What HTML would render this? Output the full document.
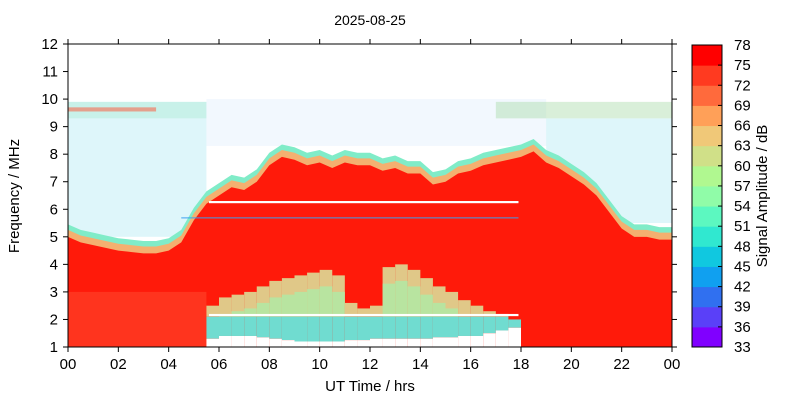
<!DOCTYPE html>
<html><head><meta charset="utf-8"><style>
body{margin:0;background:#fff;}
svg{display:block;font-family:"Liberation Sans",sans-serif;}
</style></head><body>
<svg id="c" width="800" height="400" viewBox="0 0 800 400">
<g id="plot"></g>
<g id="axes"></g>
<g id="cbar"></g>
<text x="370" y="25" font-size="14" text-anchor="middle">2025-08-25</text>
<text x="370" y="391" font-size="15" text-anchor="middle">UT Time / hrs</text>
<text transform="translate(19,196) rotate(-90)" font-size="15" text-anchor="middle">Frequency / MHz</text>
<text transform="translate(767,196) rotate(-90)" font-size="15" text-anchor="middle">Signal Amplitude / dB</text>
</svg>
<script>
const hours=[0,0.5,1,1.5,2,2.5,3,3.5,4,4.5,5,5.5,6,6.5,7,7.5,8,8.5,9,9.5,10,10.5,11,11.5,12,12.5,13,13.5,14,14.5,15,15.5,16,16.5,17,17.5,18,18.5,19,19.5,20,20.5,21,21.5,22,22.5,23,23.5,24];
const topF=[5.2,5.0,4.9,4.8,4.7,4.65,4.6,4.6,4.7,5.0,5.8,6.4,6.7,7.0,6.9,7.2,7.8,8.1,8.0,7.8,7.9,7.7,7.9,7.8,7.8,7.6,7.7,7.5,7.5,7.1,7.2,7.5,7.6,7.8,7.9,8.0,8.1,8.3,7.9,7.7,7.4,7.1,6.7,6.1,5.5,5.2,5.2,5.1,5.1];
const holeTop=[0,0,0,0,0,0,0,0,0,0,0,2.5,2.8,2.9,3.0,3.2,3.4,3.5,3.6,3.7,3.8,3.6,2.6,2.4,2.5,3.9,4.0,3.8,3.5,3.2,3.0,2.7,2.5,2.3,2.2,2.0,0,0,0,0,0,0,0,0,0,0,0,0,0];
const holeBot=[0,0,0,0,0,0,0,0,0,0,0,1.3,1.4,1.4,1.4,1.35,1.3,1.25,1.2,1.2,1.2,1.2,1.25,1.25,1.3,1.3,1.3,1.3,1.3,1.35,1.35,1.4,1.4,1.5,1.6,1.7,0,0,0,0,0,0,0,0,0,0,0,0,0];
const xTicks=["00","02","04","06","08","10","12","14","16","18","20","22","00"];
const yTicks=[1,2,3,4,5,6,7,8,9,10,11,12];
const cbLabels=[33,36,39,42,45,48,51,54,57,60,63,66,69,72,75,78];
const cbColors=["#8000ff","#5a40f8","#3070f0","#10a0f0","#10c8e0","#30e8d0","#5cf8c0","#90fca8","#b0f890","#d0e088","#f0c878","#ffa058","#ff6a3c","#ff3a20","#ff0000"];
const X0=68,X1=672,Y0=347,Y1=44;
const xs=h=>X0+(X1-X0)*h/24;
const ys=f=>Y0-(Y0-Y1)*(f-1)/11;
const NS="http://www.w3.org/2000/svg";
function mk(parent,tag,attrs){const e=document.createElementNS(NS,tag);for(const k in attrs)e.setAttribute(k,attrs[k]);parent.appendChild(e);return e;}
const plot=document.getElementById('plot');
function rect(h0,h1,f0,f1,col,op){
  if(f1<=f0)return;
  const r=mk(plot,'rect',{x:xs(h0),y:ys(f1),width:xs(h1)-xs(h0),height:ys(f0)-ys(f1),fill:col});
  if(op!==undefined)r.setAttribute('opacity',op);
  
  
}
function area(off,col,name){
  let d='M'+xs(0)+','+ys(1);
  hours.forEach((h,i)=>{d+=' L'+xs(h)+','+ys(topF[i]+off);});
  d+=' L'+xs(24)+','+ys(1)+' Z';
  const p=mk(plot,'path',{d:d,fill:col});
  
  
}
// noise bands (scattered dots in reference)
rect(0,5.5,5,9.3,"#30c8e0",0.16);
rect(19,24,5.5,9.3,"#30c8e0",0.16);
rect(5.5,19,8.3,10,"#2090f0",0.06);
rect(0,5.5,9.3,9.9,"#60d8c0",0.35);
rect(17,24,9.3,9.9,"#a0d8a0",0.4);
rect(0,3.5,9.55,9.7,"#ff5030",0.5);
area(0.25,"#80ecc8","fringe-outer");
area(0.05,"#f4b070","fringe-orange");
area(-0.2,"#ff1a0a","red-region");
// absorption hole
for(let i=0;i<hours.length-1;i++){
  if(holeTop[i]>0){
    const h=hours[i],h1=hours[i+1],ht=holeTop[i],hb=holeBot[i];
    rect(h,h1,Math.max(2.1,hb),ht,"#e0c888");
    rect(h,h1,Math.max(2.1,hb),Math.max(2.1,ht-0.6),"#b8e4a0");
    rect(h,h1,hb,Math.min(2.1,ht),"#70dcd0");
    rect(h,h1,1,hb,"#ffffff");
  }
}
rect(0,5.5,1,3,"#ff7050",0.3);
// white lines
rect(5.6,17.9,6.22,6.3,"#ffffff");
rect(5.6,17.9,2.12,2.2,"#ffffff");
rect(4.5,17.9,5.66,5.72,"#3aa0f0",0.6);
// axes
const ax=document.getElementById('axes');
const fr=mk(ax,'rect',{x:X0,y:Y1,width:X1-X0,height:Y0-Y1,fill:'none',stroke:'#000','stroke-width':1});

xTicks.forEach((l,i)=>{const x=xs(i*2);
  mk(ax,'line',{x1:x,x2:x,y1:Y1,y2:Y1-5,stroke:'#000'});
  mk(ax,'line',{x1:x,x2:x,y1:Y0,y2:Y0+5,stroke:'#000'});
  const t=mk(ax,'text',{x:x,y:Y0+22,'font-size':15,'text-anchor':'middle'});t.textContent=l;
  });
yTicks.forEach(v=>{const y=ys(v);
  mk(ax,'line',{x1:X0,x2:X0-5,y1:y,y2:y,stroke:'#000'});
  mk(ax,'line',{x1:X1,x2:X1+5,y1:y,y2:y,stroke:'#000'});
  const t=mk(ax,'text',{x:X0-10,y:y+5,'font-size':15,'text-anchor':'end'});t.textContent=v;
  });
// colorbar
const cb=document.getElementById('cbar');
const CX=692,CW=30,CY0=347,CY1=45,n=cbColors.length,step=(CY0-CY1)/n;
cbColors.forEach((c,i)=>{const r=mk(cb,'rect',{x:CX,y:CY0-(i+1)*step,width:CW,height:step+0.5,fill:c});
  });
mk(cb,'rect',{x:CX,y:CY1,width:CW,height:CY0-CY1,fill:'none',stroke:'#000'});
cbLabels.forEach((l,i)=>{const y=CY0-i*step;
  mk(cb,'line',{x1:CX+CW-4,x2:CX+CW,y1:y,y2:y,stroke:'#000'});
  const t=mk(cb,'text',{x:734,y:y+5,'font-size':15});t.textContent=l;
  });
</script>
</body></html>
